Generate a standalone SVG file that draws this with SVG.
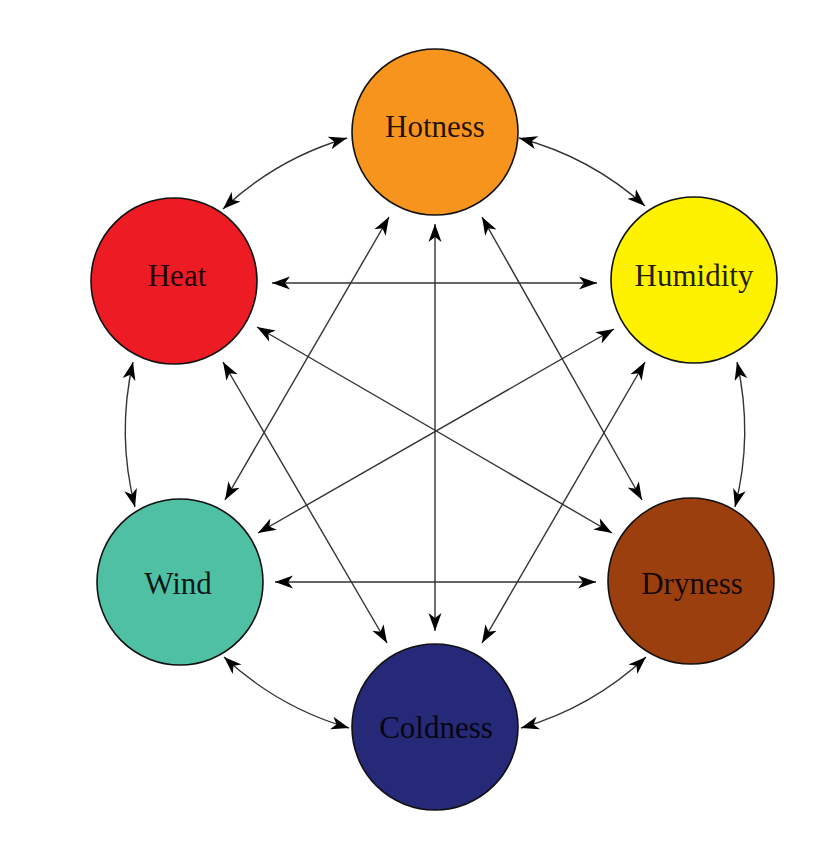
<svg xmlns="http://www.w3.org/2000/svg" width="823" height="842" viewBox="0 0 823 842">
<style>
.node{stroke:#111;stroke-width:1.6}
.lbl{font-family:"Liberation Serif","Times New Roman",serif;font-size:31px;fill:#000;fill-opacity:0.88;text-anchor:middle}
.c{fill:none;stroke:#333;stroke-width:1.4;marker-start:url(#ah);marker-end:url(#ah)}
</style>
<defs>
<marker id="ah" markerUnits="userSpaceOnUse" markerWidth="20" markerHeight="14" viewBox="0 0 20 14" refX="18" refY="7" orient="auto-start-reverse">
<path d="M0,0.5 L18,7 L0,13.5 L5,7 Z" fill="#000"/>
</marker>
</defs>
<rect width="823" height="842" fill="#fff"/>
<g id="connectors">
<path class="c" d="M223,209 A307,307 0 0 1 347,138"/>
<path class="c" d="M519,138 A307,307 0 0 1 645,206"/>
<path class="c" d="M135,507 A310,310 0 0 1 133,362"/>
<path class="c" d="M349,728 A310,310 0 0 1 224,657"/>
<path class="c" d="M646,657 A310,310 0 0 1 521,728"/>
<path class="c" d="M737,362 A310,310 0 0 1 735,507"/>
<line class="c" x1="272" y1="283" x2="597" y2="283"/>
<line class="c" x1="275" y1="582" x2="596" y2="582"/>
<line class="c" x1="435" y1="224" x2="435" y2="631"/>
<line class="c" x1="389" y1="217" x2="225" y2="500"/>
<line class="c" x1="482" y1="217" x2="642" y2="500"/>
<line class="c" x1="223" y1="362" x2="387" y2="643"/>
<line class="c" x1="645" y1="362" x2="482" y2="643"/>
<line class="c" x1="257" y1="327" x2="612" y2="533"/>
<line class="c" x1="614" y1="329" x2="258" y2="533"/>
</g>
<g id="hotness"><circle class="node" cx="435" cy="132" r="83" fill="#F7941D"/><text class="lbl" x="435" y="137">Hotness</text></g>
<g id="heat"><circle class="node" cx="174" cy="281" r="83" fill="#ED1C24"/><text class="lbl" x="177" y="286">Heat</text></g>
<g id="humidity"><circle class="node" cx="694" cy="280" r="83" fill="#FFF200"/><text class="lbl" x="694" y="286">Humidity</text></g>
<g id="wind"><circle class="node" cx="180" cy="582" r="83" fill="#50C0A5"/><text class="lbl" x="178" y="594">Wind</text></g>
<g id="dryness"><circle class="node" cx="691" cy="581" r="83" fill="#9C3F0F"/><text class="lbl" x="692" y="594">Dryness</text></g>
<g id="coldness"><circle class="node" cx="435" cy="727" r="83" fill="#262878"/><text class="lbl" x="436" y="738">Coldness</text></g>
</svg>
